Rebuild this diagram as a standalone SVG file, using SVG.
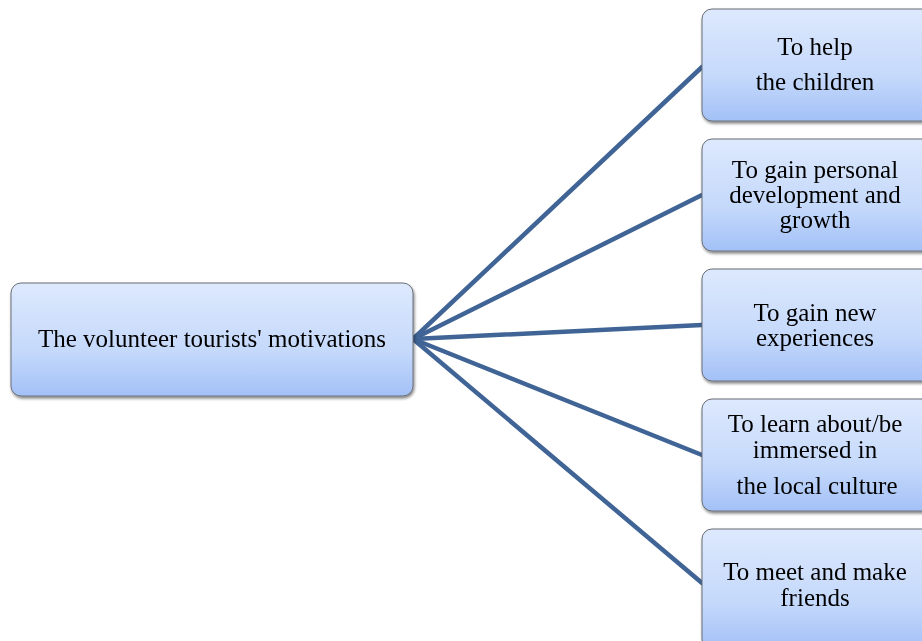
<svg xmlns="http://www.w3.org/2000/svg" width="922" height="641" viewBox="0 0 922 641">
<style>
.box{fill:url(#g);stroke:#6a6f78;stroke-width:1}
.t{font-family:"Liberation Serif","Times New Roman",serif;font-size:25px;fill:#000;text-anchor:middle}
.c{stroke:#3f6495;stroke-width:4.5;fill:none;stroke-linecap:round}
</style>
<defs>
<linearGradient id="g" x1="0" y1="0" x2="0" y2="1">
<stop offset="0" stop-color="#dde9fd"/>
<stop offset="0.6" stop-color="#c5d9fb"/>
<stop offset="1" stop-color="#a3c1f7"/>
</linearGradient>
<filter id="sh" x="-10%" y="-10%" width="120%" height="130%">
<feGaussianBlur in="SourceAlpha" stdDeviation="1.5"/>
<feOffset dx="1" dy="2" result="b"/>
<feComponentTransfer><feFuncA type="linear" slope="0.5"/></feComponentTransfer>
<feMerge><feMergeNode/><feMergeNode in="SourceGraphic"/></feMerge>
</filter>
</defs>
<g id="connectors">
<path class="c" d="M413,339 L702,67"/>
<path class="c" d="M413,339 L702,195"/>
<path class="c" d="M413,339 L702,325"/>
<path class="c" d="M413,339 L702,455"/>
<path class="c" d="M413,339 L702,583"/>
</g>
<g id="root" filter="url(#sh)">
<rect class="box" x="11" y="283" width="402" height="113" rx="10"/>
<text class="t" x="212" y="347">The volunteer tourists' motivations</text>
</g>
<g id="n1" filter="url(#sh)">
<rect class="box" x="702" y="9" width="230" height="112" rx="10"/>
<text class="t" x="815" y="55">To help</text>
<text class="t" x="815" y="90">the children</text>
</g>
<g id="n2" filter="url(#sh)">
<rect class="box" x="702" y="139" width="230" height="112" rx="10"/>
<text class="t" x="815" y="178">To gain personal</text>
<text class="t" x="815" y="203">development and</text>
<text class="t" x="815" y="228">growth</text>
</g>
<g id="n3" filter="url(#sh)">
<rect class="box" x="702" y="269" width="230" height="112" rx="10"/>
<text class="t" x="815" y="321">To gain new</text>
<text class="t" x="815" y="346">experiences</text>
</g>
<g id="n4" filter="url(#sh)">
<rect class="box" x="702" y="399" width="230" height="112" rx="10"/>
<text class="t" x="815" y="432">To learn about/be</text>
<text class="t" x="815" y="458">immersed in</text>
<text class="t" x="817" y="494">the local culture</text>
</g>
<g id="n5" filter="url(#sh)">
<rect class="box" x="702" y="529" width="230" height="120" rx="10"/>
<text class="t" x="815" y="580">To meet and make</text>
<text class="t" x="815" y="606">friends</text>
</g>
</svg>
